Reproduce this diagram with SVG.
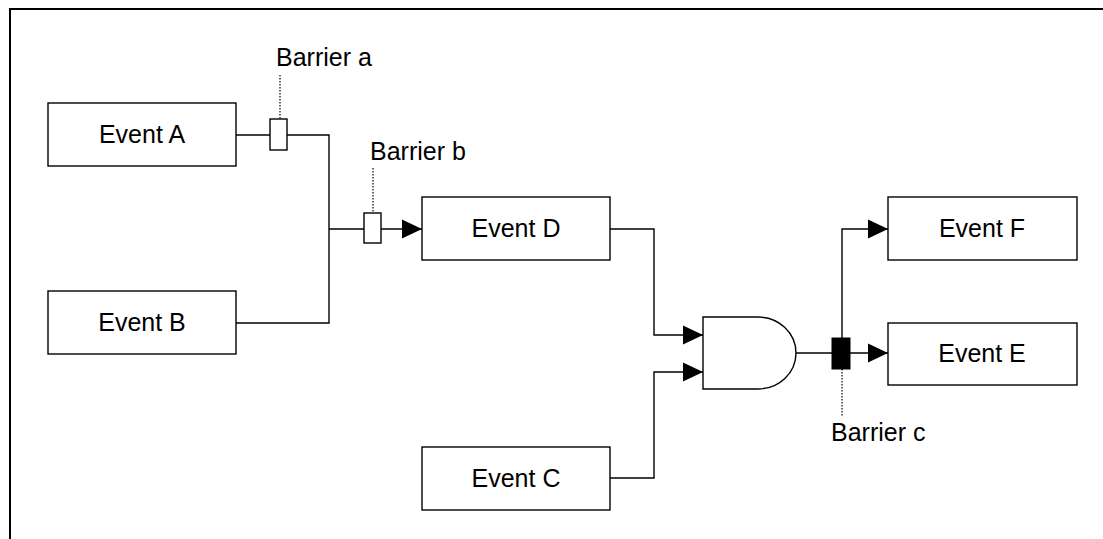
<svg xmlns="http://www.w3.org/2000/svg" width="1103" height="539" viewBox="0 0 1103 539">
<defs>
<marker id="arr" markerUnits="userSpaceOnUse" markerWidth="20" markerHeight="20" viewBox="0 0 19 18" refX="19" refY="9" orient="auto">
<path d="M0,0 L19,9 L0,18 Z" fill="#000"/>
</marker>
</defs>
<style>
.box{fill:#fff;stroke:#000;stroke-width:1.4}
.lbl{font-family:"Liberation Sans",Arial,sans-serif;font-size:25px;fill:#000}
.con{fill:none;stroke:#000;stroke-width:1.4}
.dot{fill:none;stroke:#000;stroke-width:1.2;stroke-dasharray:1.5 1.5}
.bar{fill:#fff;stroke:#000;stroke-width:1.4}
</style>
<rect width="1103" height="539" fill="#fff"/>
<path d="M10,539 V9 H1103" fill="none" stroke="#000" stroke-width="2"/>
<g id="connectors">
<path class="con" d="M236,135 H270"/>
<path class="con" d="M287,135 H329 V323 H236"/>
<path class="con" d="M329,229 H364"/>
<path class="con" d="M381,229 H422" marker-end="url(#arr)"/>
<path class="con" d="M610,229 H654 V335 H703" marker-end="url(#arr)"/>
<path class="con" d="M610,478 H654 V372 H703" marker-end="url(#arr)"/>
<path class="con" d="M796,353 H832"/>
<path class="con" d="M850,353 H888" marker-end="url(#arr)"/>
<path class="con" d="M842,338 V229 H888" marker-end="url(#arr)"/>
<path class="dot" d="M280,75 V119"/>
<path class="dot" d="M373,168 V213"/>
<path class="dot" d="M842,369 V416"/>
</g>
<g id="barrier-a">
<rect class="bar" x="270" y="119" width="17" height="31"/>
<text class="lbl" x="276" y="66">Barrier a</text>
</g>
<g id="barrier-b">
<rect class="bar" x="364" y="213" width="17" height="30"/>
<text class="lbl" x="370" y="160">Barrier b</text>
</g>
<g id="barrier-c">
<rect x="832" y="338" width="18" height="31" fill="#000" stroke="#000" stroke-width="1"/>
<text class="lbl" x="831" y="441">Barrier c</text>
</g>
<g id="event-a">
<rect class="box" x="48" y="103" width="188" height="63"/>
<text class="lbl" x="142" y="143" text-anchor="middle">Event A</text>
</g>
<g id="event-b">
<rect class="box" x="48" y="291" width="188" height="63"/>
<text class="lbl" x="142" y="331" text-anchor="middle">Event B</text>
</g>
<g id="event-c">
<rect class="box" x="422" y="447" width="188" height="63"/>
<text class="lbl" x="516" y="487" text-anchor="middle">Event C</text>
</g>
<g id="event-d">
<rect class="box" x="422" y="197" width="188" height="63"/>
<text class="lbl" x="516" y="237" text-anchor="middle">Event D</text>
</g>
<g id="and-gate">
<path class="box" d="M703,317 H758 A38,36 0 0 1 758,389 H703 Z"/>
</g>
<g id="event-f">
<rect class="box" x="888" y="197" width="189" height="63"/>
<text class="lbl" x="982" y="237" text-anchor="middle">Event F</text>
</g>
<g id="event-e">
<rect class="box" x="888" y="323" width="189" height="62"/>
<text class="lbl" x="982" y="362" text-anchor="middle">Event E</text>
</g>
</svg>
